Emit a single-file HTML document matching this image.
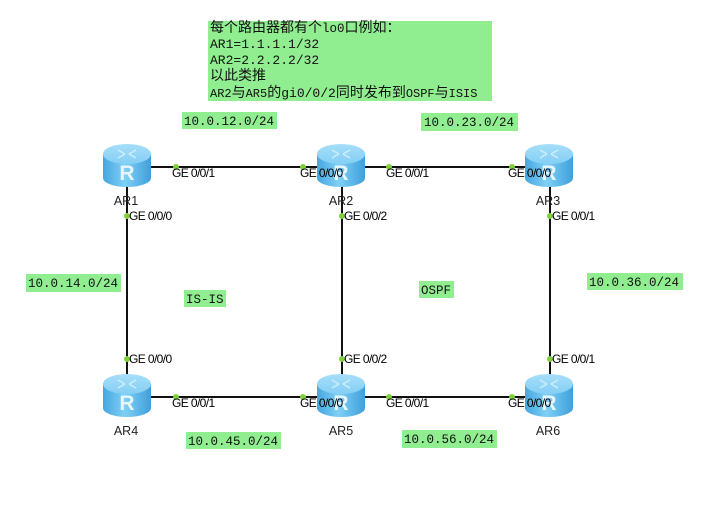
<!DOCTYPE html>
<html><head><meta charset="utf-8"><style>
html,body{margin:0;padding:0;background:#fff;}
svg{display:block;}
.ge{font-family:"Liberation Sans",Arial,sans-serif;font-size:12px;fill:#000;letter-spacing:-0.6px;}
.ar{font-family:"Liberation Sans",Arial,sans-serif;font-size:12.5px;fill:#222;text-anchor:middle;}
.net{font-family:"Liberation Mono",monospace;font-size:12.5px;fill:#111;}
.cn{font-family:"Liberation Mono","Noto Sans CJK SC",monospace;font-size:13px;fill:#111;}
</style></head><body>
<svg width="720" height="518" viewBox="0 0 720 518" xmlns="http://www.w3.org/2000/svg">
<defs>
<linearGradient id="body" x1="0" y1="0" x2="1" y2="0">
<stop offset="0" stop-color="#45a6e0"/><stop offset="0.45" stop-color="#7fd0f5"/><stop offset="1" stop-color="#3f9fdc"/>
</linearGradient>
<linearGradient id="top" x1="0" y1="0" x2="0" y2="1">
<stop offset="0" stop-color="#a6def9"/><stop offset="1" stop-color="#84cff4"/>
</linearGradient>
<g id="rt">
<path d="M-24,-13 L-24,11 A24,9 0 0 0 24,11 L24,-13 Z" fill="url(#body)"/>
<ellipse cx="0" cy="-13" rx="24" ry="10" fill="url(#top)"/>
<g stroke="#d8f2ff" stroke-width="1.3" fill="none" opacity="0.85">
<path d="M-9,-17 L-2,-13 M2,-13 L9,-9 M-9,-9 L-2,-13 M2,-13 L9,-17"/>
</g>
<text x="0" y="13" text-anchor="middle" font-family="Liberation Sans,Arial,sans-serif" font-size="21" font-weight="bold" fill="#e6f6ff">R</text>
</g>
</defs>

<!-- info box -->
<rect x="208" y="21" width="284" height="80" fill="#90ee90"/>
<text class="cn" x="210" y="32" style="font-size:14px">每个路由器都有个<tspan style="font-size:12.5px">lo0</tspan>口例如：</text>
<text class="cn" x="210" y="48">AR1=1.1.1.1/32</text>
<text class="cn" x="210" y="64">AR2=2.2.2.2/32</text>
<text class="cn" x="210" y="80" style="font-size:14px">以此类推</text>
<text class="cn" x="210" y="97" style="font-size:14px"><tspan style="font-size:12px">AR2</tspan>与<tspan style="font-size:12px">AR5</tspan>的<tspan style="font-size:13px">gi0/0/2</tspan>同时发布到<tspan style="font-size:12px">OSPF</tspan>与<tspan style="font-size:12px">ISIS</tspan></text>

<!-- network labels -->
<rect x="182" y="112" width="95" height="17" fill="#90ee90"/>
<text class="net" x="184" y="125">10.0.12.0/24</text>
<rect x="421" y="113" width="97" height="18" fill="#90ee90"/>
<text class="net" x="424" y="126">10.0.23.0/24</text>
<rect x="26" y="274" width="95" height="18" fill="#90ee90"/>
<text class="net" x="28" y="287">10.0.14.0/24</text>
<rect x="184" y="290" width="42" height="17" fill="#90ee90"/>
<text class="net" x="186" y="303">IS-IS</text>
<rect x="419" y="281" width="35" height="17" fill="#90ee90"/>
<text class="net" x="421" y="294">OSPF</text>
<rect x="587" y="273" width="96" height="17" fill="#90ee90"/>
<text class="net" x="589" y="286">10.0.36.0/24</text>
<rect x="186" y="432" width="95" height="17" fill="#90ee90"/>
<text class="net" x="188" y="445">10.0.45.0/24</text>
<rect x="402" y="430" width="95" height="18" fill="#90ee90"/>
<text class="net" x="404" y="443">10.0.56.0/24</text>

<!-- links -->
<g stroke="#111" stroke-width="2">
<line x1="127" y1="167" x2="550" y2="167"/>
<line x1="127" y1="397" x2="550" y2="397"/>
<line x1="127" y1="167" x2="127" y2="397"/>
<line x1="342" y1="167" x2="342" y2="397"/>
<line x1="550" y1="167" x2="550" y2="397"/>
</g>

<!-- routers -->
<use href="#rt" x="127" y="167"/>
<use href="#rt" x="341" y="167"/>
<use href="#rt" x="549" y="167"/>
<use href="#rt" x="127" y="397"/>
<use href="#rt" x="341" y="397"/>
<use href="#rt" x="549" y="397"/>

<!-- dots -->
<g fill="#7fd13b">
<circle cx="176" cy="167" r="3"/><circle cx="303" cy="167" r="3"/>
<circle cx="389" cy="167" r="3"/><circle cx="512" cy="167" r="3"/>
<circle cx="127" cy="216" r="3"/><circle cx="342" cy="216" r="3"/><circle cx="550" cy="216" r="3"/>
<circle cx="127" cy="359" r="3"/><circle cx="342" cy="359" r="3"/><circle cx="550" cy="359" r="3"/>
<circle cx="176" cy="397" r="3"/><circle cx="303" cy="397" r="3"/>
<circle cx="389" cy="397" r="3"/><circle cx="512" cy="397" r="3"/>
</g>

<!-- interface labels -->
<text class="ge" x="172" y="177">GE 0/0/1</text>
<text class="ge" x="300" y="177">GE 0/0/0</text>
<text class="ge" x="386" y="177">GE 0/0/1</text>
<text class="ge" x="508" y="177">GE 0/0/0</text>
<text class="ge" x="129" y="220">GE 0/0/0</text>
<text class="ge" x="344" y="220">GE 0/0/2</text>
<text class="ge" x="552" y="220">GE 0/0/1</text>
<text class="ge" x="129" y="363">GE 0/0/0</text>
<text class="ge" x="344" y="363">GE 0/0/2</text>
<text class="ge" x="552" y="363">GE 0/0/1</text>
<text class="ge" x="172" y="407">GE 0/0/1</text>
<text class="ge" x="300" y="407">GE 0/0/0</text>
<text class="ge" x="386" y="407">GE 0/0/1</text>
<text class="ge" x="508" y="407">GE 0/0/0</text>

<!-- router names -->
<text class="ar" x="126" y="205">AR1</text>
<text class="ar" x="341" y="205">AR2</text>
<text class="ar" x="548" y="205">AR3</text>
<text class="ar" x="126" y="435">AR4</text>
<text class="ar" x="341" y="435">AR5</text>
<text class="ar" x="548" y="435">AR6</text>
</svg>
</body></html>
